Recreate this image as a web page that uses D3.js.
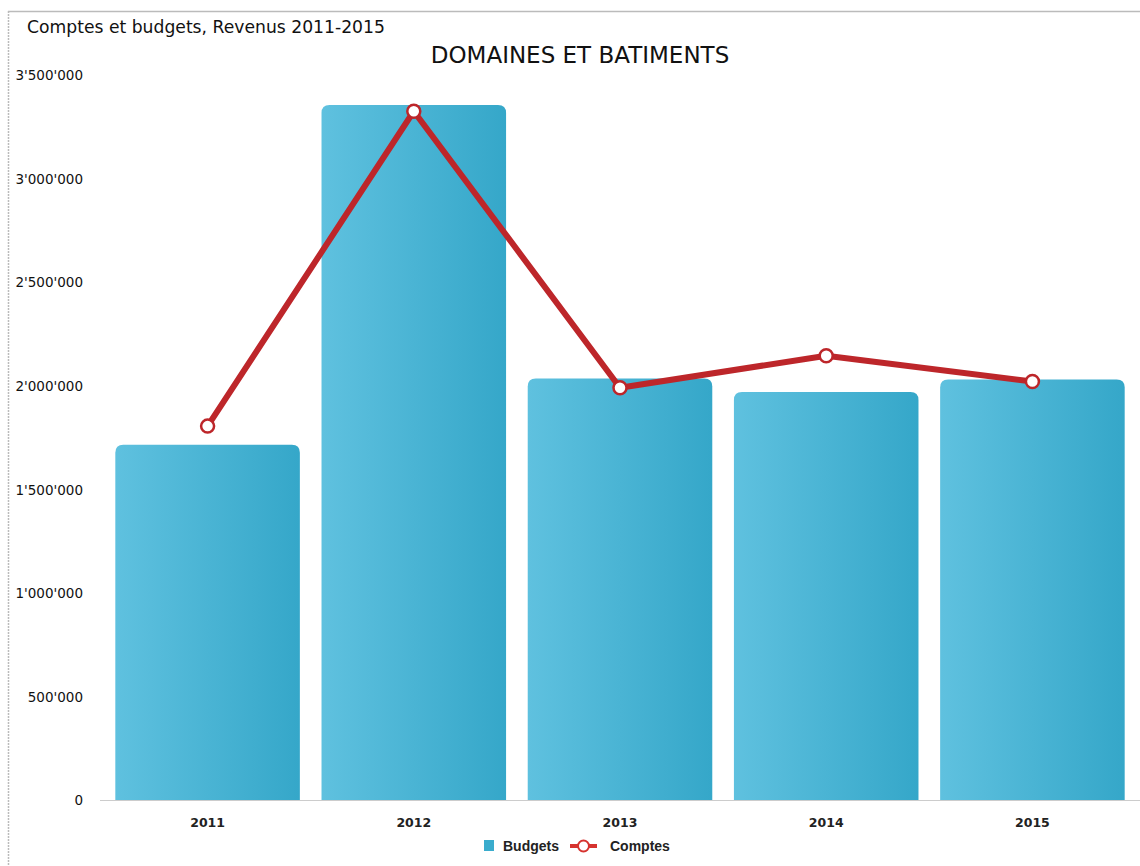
<!DOCTYPE html>
<html><head><meta charset="utf-8">
<script src="https://cdn.jsdelivr.net/npm/d3@7"></script>
<style>body{margin:0;background:#fff;}svg{display:block;}</style>
</head><body>
<svg id="c" width="1140" height="866"></svg>
<script>
const years = ["2011","2012","2013","2014","2015"];
const budgets = [1715000, 3355000, 2035000, 1970000, 2030000];
const comptes = [1805000, 3325000, 1990000, 2145000, 2020000];
const yTicks = [0, 500000, 1000000, 1500000, 2000000, 2500000, 3000000, 3500000];
const chartTitle = "Comptes et budgets, Revenus 2011-2015";
const subTitle = "DOMAINES ET BATIMENTS";
const seriesNames = ["Budgets", "Comptes"];

const svg = d3.select("#c");
const x = d3.scaleBand().domain(years).range([105, 1135]).paddingInner(0.105).paddingOuter(0.05);
const y = d3.scaleLinear().domain([0, 3500000]).range([800, 75]);
const fmt = v => d3.format(",")(v).replace(/,/g, "'");

const defs = svg.append("defs");
const g = defs.append("linearGradient").attr("id","bg").attr("x1","0").attr("x2","1").attr("y1","0").attr("y2","0");
g.append("stop").attr("offset","0").attr("stop-color","#5fc1df");
g.append("stop").attr("offset","1").attr("stop-color","#35a7c9");

// frame
svg.append("line").attr("x1",8).attr("x2",1140).attr("y1",11.5).attr("y2",11.5).attr("stroke","#bbb").attr("stroke-width",1.5);
svg.append("line").attr("x1",8.5).attr("x2",8.5).attr("y1",11).attr("y2",866).attr("stroke","#bbb").attr("stroke-width",1.5).attr("stroke-dasharray","2,1");

svg.append("text").attr("x",27).attr("y",33).attr("font-family","DejaVu Sans").attr("font-size",17.2).attr("fill","#111").text(chartTitle);
svg.append("text").attr("x",580).attr("y",63).attr("text-anchor","middle").attr("font-family","DejaVu Sans").attr("font-size",23).attr("fill","#111").text(subTitle);

// y axis
const ya = svg.append("g").attr("transform","translate(83,0)")
  .call(d3.axisLeft(y).tickValues(yTicks).tickFormat(fmt).tickSize(0).tickPadding(0));
ya.select(".domain").remove();
ya.selectAll("text").attr("font-family","DejaVu Sans").attr("font-size",13.5).attr("fill","#111").attr("dy","0.35em");

// bars with rounded tops
const r = 8;
svg.append("g").selectAll("path").data(years).join("path")
  .attr("fill","url(#bg)")
  .attr("d",(d,i)=>{
    const x0 = x(d), w = x.bandwidth(), t = y(budgets[i]), b = y(0);
    return `M${x0},${b}V${t+r}Q${x0},${t} ${x0+r},${t}H${x0+w-r}Q${x0+w},${t} ${x0+w},${t+r}V${b}Z`;
  });

// baseline
svg.append("line").attr("x1",100).attr("x2",1140).attr("y1",y(0)+0.5).attr("y2",y(0)+0.5).attr("stroke","#ccc");

// x axis
const xa = svg.append("g").attr("transform",`translate(0,${y(0)})`)
  .call(d3.axisBottom(x).tickSize(0).tickPadding(18));
xa.select(".domain").remove();
xa.selectAll("text").attr("font-family","DejaVu Sans").attr("font-size",12.5).attr("font-weight","bold").attr("fill","#222");

// line
const cx = d => x(d) + x.bandwidth()/2;
const line = d3.line().x((d,i)=>cx(years[i])).y(d=>y(d));
svg.append("path").datum(comptes).attr("d",line).attr("fill","none").attr("stroke","#bd262a").attr("stroke-width",6).attr("stroke-linejoin","round");
svg.append("g").selectAll("circle").data(comptes).join("circle")
  .attr("cx",(d,i)=>cx(years[i])).attr("cy",d=>y(d)).attr("r",6.5)
  .attr("fill","#fff").attr("stroke","#bd262a").attr("stroke-width",2.5);

// legend
const lg = svg.append("g").attr("font-family","Liberation Sans, Arial").attr("font-size",14).attr("font-weight","bold").attr("fill","#222");
lg.append("rect").attr("x",484).attr("y",840).attr("width",10).attr("height",11).attr("fill","#3aaccd");
lg.append("text").attr("x",503).attr("y",851).text(seriesNames[0]);
lg.append("line").attr("x1",570).attr("x2",597).attr("y1",846).attr("y2",846).attr("stroke","#d6332f").attr("stroke-width",4);
lg.append("circle").attr("cx",583.5).attr("cy",846).attr("r",5.5).attr("fill","#fff").attr("stroke","#d6332f").attr("stroke-width",2);
lg.append("text").attr("x",610).attr("y",851).text(seriesNames[1]);
</script>
</body></html>
